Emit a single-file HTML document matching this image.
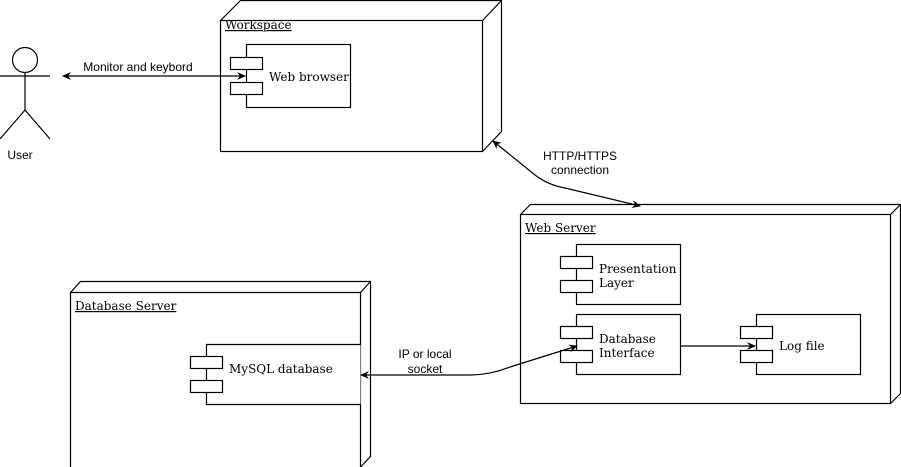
<!DOCTYPE html>
<html><head><style>body{margin:0;background:#fff}</style></head><body>
<svg width="901" height="467" xmlns="http://www.w3.org/2000/svg" style="display:block">
<defs>
<marker id="a" markerWidth="10" markerHeight="10" refX="8" refY="5" orient="auto" markerUnits="userSpaceOnUse"><path d="M0,1 L9,5 L0,9 L3,5 Z" fill="#000"/></marker>
<marker id="b" markerWidth="10" markerHeight="10" refX="1" refY="5" orient="auto" markerUnits="userSpaceOnUse"><path d="M9,1 L0,5 L9,9 L6,5 Z" fill="#000"/></marker>
</defs>
<g fill="#fff" stroke="#000" stroke-width="1.2">
<path d="M220.5,20.5 L240.5,0.5 L501.5,0.5 L501.5,131.5 L482.5,151.5" fill="#fff"/>
<path d="M482.5,20.5 L501.5,0.5"/>
<rect x="220.5" y="20.5" width="262" height="131"/>
<rect x="246.5" y="44.5" width="104" height="63"/>
<rect x="230.5" y="57.5" width="32" height="12"/>
<rect x="230.5" y="82.5" width="32" height="12"/>
<path d="M520.5,214.5 L530.5,204.5 L900.5,204.5 L900.5,393.5 L890.5,403.5"/>
<path d="M890.5,214.5 L900.5,204.5"/>
<rect x="520.5" y="214.5" width="370" height="189"/>
<rect x="576.5" y="244.5" width="104" height="60"/>
<rect x="560.5" y="256.5" width="32" height="12"/>
<rect x="560.5" y="280.5" width="32" height="12"/>
<rect x="576.5" y="314.5" width="104" height="60"/>
<rect x="560.5" y="326.5" width="32" height="12"/>
<rect x="560.5" y="350.5" width="32" height="12"/>
<rect x="756.5" y="314.5" width="104" height="60"/>
<rect x="740.5" y="326.5" width="32" height="12"/>
<rect x="740.5" y="350.5" width="32" height="12"/>
<path d="M70.5,292.5 L80.5,281.5 L370.5,281.5 L370.5,456.5 L360.5,467"/>
<path d="M360.5,292.5 L370.5,281.5"/>
<path d="M70.5,467 L70.5,292.5 L360.5,292.5 L360.5,467"/>
<path d="M360.5,344.5 L206.5,344.5 L206.5,404.5 L360.5,404.5"/>
<rect x="190.5" y="356.5" width="32" height="12"/>
<rect x="190.5" y="380.5" width="32" height="12"/>
<circle cx="25" cy="60" r="12.5"/>
<path d="M25,72.5 L25,110 M0,76 L50,76 M0,139 L25,110 L50,139" fill="none"/>
</g>
<g stroke="#000" stroke-width="1.2" fill="none">
<path d="M63,76 L245,76" marker-start="url(#b)" marker-end="url(#a)"/>
<path d="M493,141 L535,175 Q548,185 565,188 L640,206" marker-start="url(#b)" marker-end="url(#a)"/>
<path d="M361,375 L470,375 Q490,375 510,367 L577,346" marker-start="url(#b)" marker-end="url(#a)"/>
<path d="M680,346 L755,346" marker-end="url(#a)"/>
</g>
<g font-family="Liberation Sans, sans-serif" font-size="12" fill="#000" text-anchor="middle">
<text x="138" y="71">Monitor and keybord</text>
<text x="20" y="159">User</text>
<text x="580" y="160">HTTP/HTTPS</text>
<text x="580" y="174">connection</text>
<text x="425" y="358">IP or local</text>
<text x="425" y="373">socket</text>
</g>
<g font-family="DejaVu Serif, Liberation Serif, serif" font-size="12" fill="#000">
<text x="225" y="29" text-decoration="underline">Workspace</text>
<text x="269" y="81">Web browser</text>
<text x="525" y="232" text-decoration="underline">Web Server</text>
<text x="599" y="273">Presentation</text>
<text x="599" y="287">Layer</text>
<text x="599" y="343">Database</text>
<text x="599" y="357">Interface</text>
<text x="779" y="350">Log file</text>
<text x="75" y="310" text-decoration="underline">Database Server</text>
<text x="229" y="373">MySQL database</text>
</g>
</svg>
</body></html>
